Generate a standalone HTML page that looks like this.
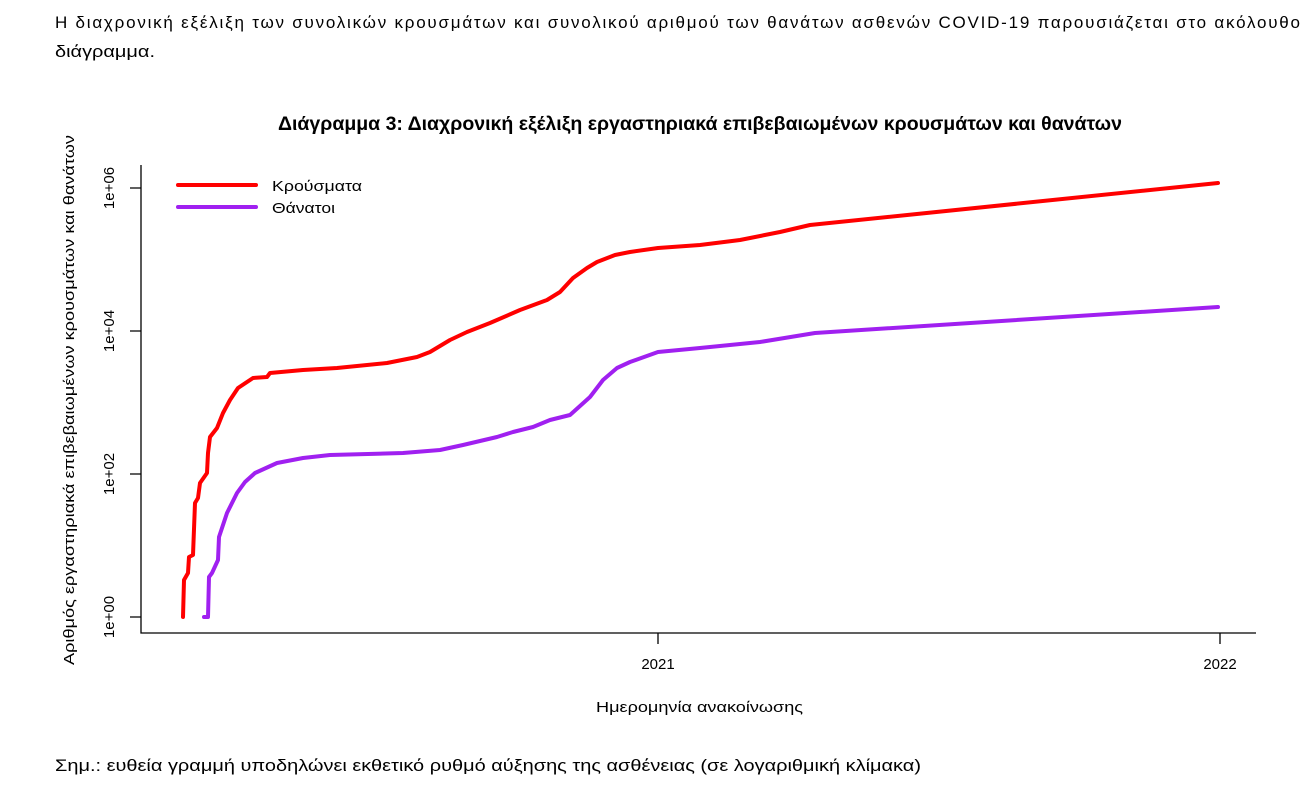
<!DOCTYPE html>
<html><head><meta charset="utf-8"><style>
html,body{margin:0;padding:0;background:#fff;width:1312px;height:800px;overflow:hidden}
svg{display:block}
text{font-family:"Liberation Sans","DejaVu Sans",sans-serif;fill:#000}
</style></head><body>
<svg width="1312" height="800" viewBox="0 0 1312 800">
<text x="55" y="28" font-size="17" textLength="1245" lengthAdjust="spacing">Η διαχρονική εξέλιξη των συνολικών κρουσμάτων και συνολικού αριθμού των θανάτων ασθενών COVID-19 παρουσιάζεται στο ακόλουθο</text>
<text x="55" y="57" font-size="17" textLength="100" lengthAdjust="spacingAndGlyphs">διάγραμμα.</text>
<text x="278" y="130" font-size="19" font-weight="bold" textLength="844" lengthAdjust="spacingAndGlyphs">Διάγραμμα 3: Διαχρονική εξέλιξη εργαστηριακά επιβεβαιωμένων κρουσμάτων και θανάτων</text>
<g stroke="#000" stroke-width="1.3" fill="none">
<path d="M141 165 V633 H1256"/>
<path d="M130 188 H141 M130 331 H141 M130 474 H141 M130 617 H141"/>
<path d="M658 633 V644 M1220 633 V644"/>
</g>
<g font-size="15">
<text transform="translate(114,188) rotate(-90)" text-anchor="middle">1e+06</text>
<text transform="translate(114,331) rotate(-90)" text-anchor="middle">1e+04</text>
<text transform="translate(114,474) rotate(-90)" text-anchor="middle">1e+02</text>
<text transform="translate(114,617) rotate(-90)" text-anchor="middle">1e+00</text>
<text x="658" y="669" text-anchor="middle">2021</text>
<text x="1220" y="669" text-anchor="middle">2022</text>
<text x="596" y="712" textLength="207" lengthAdjust="spacingAndGlyphs">Ημερομηνία ανακοίνωσης</text>
<text transform="translate(74,665) rotate(-90)" textLength="530" lengthAdjust="spacingAndGlyphs">Αριθμός εργαστηριακά επιβεβαιωμένων κρουσμάτων και θανάτων</text>
<text x="272" y="191" textLength="90" lengthAdjust="spacingAndGlyphs">Κρούσματα</text>
<text x="272" y="213" textLength="63" lengthAdjust="spacingAndGlyphs">Θάνατοι</text>
</g>
<g fill="none" stroke-width="4" stroke-linejoin="round" stroke-linecap="round">
<path stroke="#ff0000" d="M178 185 H256"/>
<path stroke="#a020f0" d="M178 207 H256"/>
<path stroke="#ff0000" d="M183 617 L184 580 L188 573 L189 557 L193 555 L195 503 L198 498 L200 483 L207 473 L208 453 L210 437 L217 428 L223 413 L230 400 L238 388 L253 378 L267 377 L270 373 L303 370 L337 368 L387 363 L417 357 L430 352 L450 340 L467 332 L490 323 L520 310 L547 300 L560 292 L573 278 L587 268 L597 262 L615 255 L630 252 L658 248 L700 245 L740 240 L780 232 L810 225 L1218 183"/>
<path stroke="#a020f0" d="M204 617 L208 617 L209 577 L212 573 L218 560 L219 537 L227 513 L237 493 L245 482 L255 473 L277 463 L303 458 L330 455 L403 453 L440 450 L463 445 L497 437 L513 432 L533 427 L550 420 L570 415 L590 397 L603 380 L617 368 L630 362 L658 352 L700 348 L760 342 L815 333 L1218 307"/>
</g>
<text x="55" y="771" font-size="17" textLength="866" lengthAdjust="spacingAndGlyphs">Σημ.: ευθεία γραμμή υποδηλώνει εκθετικό ρυθμό αύξησης της ασθένειας (σε λογαριθμική κλίμακα)</text>
</svg>
</body></html>
